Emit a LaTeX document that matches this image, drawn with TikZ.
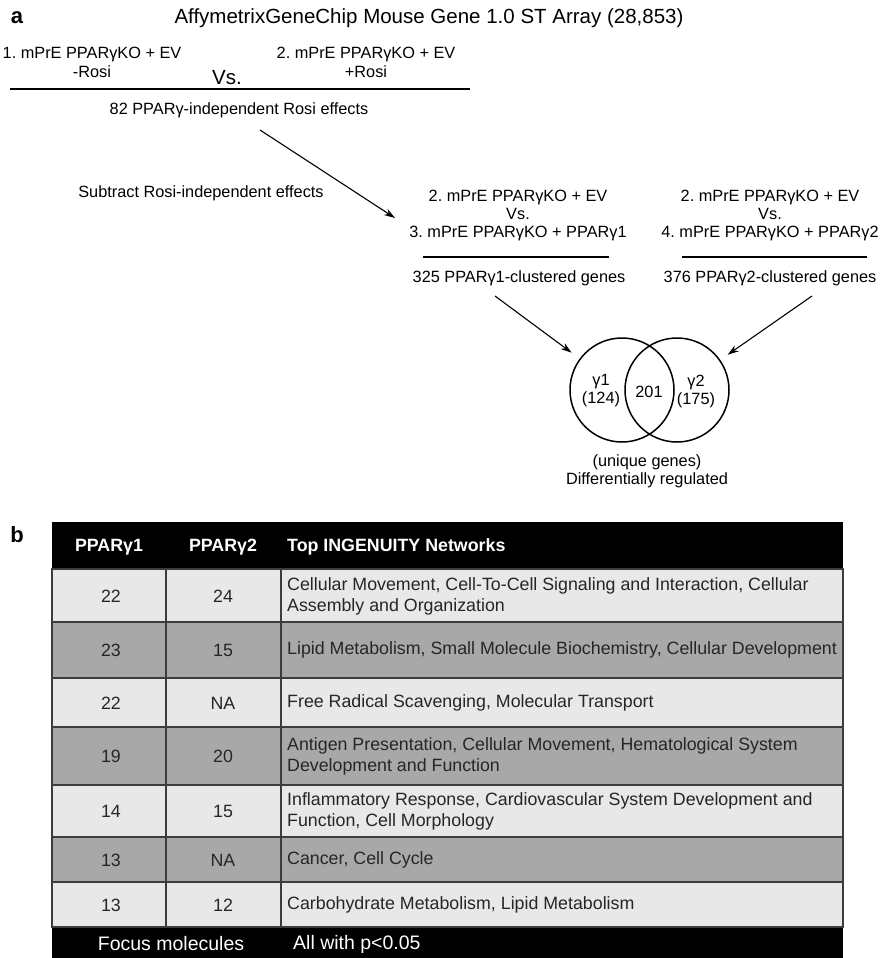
\documentclass[tikz,border=0pt]{standalone}
\usepackage{fontspec}
\setmainfont{Liberation Sans}
\usetikzlibrary{arrows.meta, positioning}
\frenchspacing

\definecolor{rowlight}{HTML}{E8E8E8}
\definecolor{rowdark}{HTML}{A8A8A8}
\definecolor{gridgray}{HTML}{3C3C3C}

\begin{document}
\begin{tikzpicture}[
    x=1pt, y=-1pt,
    txt/.style={inner sep=0pt, align=center, font=\fontsize{16.3}{18}\selectfont},
    panel/.style={inner sep=0pt, font=\fontsize{22}{24}\selectfont\bfseries},
    rule/.style={line width=1.3pt},
    arr/.style={-{Stealth[length=11pt, width=7pt]}, line width=1.1pt},
    venn/.style={circle, draw, line width=1.5pt, minimum size=104pt, inner sep=0pt},
    cell/.style={inner sep=0pt, align=center, font=\fontsize{17.8}{21}\selectfont, text=black!85},
    net/.style={inner sep=0pt, align=left, anchor=west, font=\fontsize{17.8}{21}\selectfont, text=black!85},
    head/.style={inner sep=0pt, text=white, font=\fontsize{17.8}{21}\selectfont\bfseries},
    foot/.style={inner sep=0pt, text=white, font=\fontsize{19.5}{21}\selectfont},
    grid/.style={draw=gridgray, line width=1.2pt},
]
    \useasboundingbox (0,0) rectangle (883,958);

    % Panel a: title and first comparison
    \node[panel] (pa) at (17,18) {a};
    \node[txt, font=\fontsize{20.5}{22}\selectfont] (title) at (429,18) {AffymetrixGeneChip Mouse Gene 1.0 ST Array (28,853)};
    \node[txt, font=\fontsize{16.3}{19}\selectfont] (ev1) at (92,62) {1. mPrE PPARγKO + EV\\-Rosi};
    \node[txt, font=\fontsize{20.5}{22}\selectfont] (vs1) at (227,78) {Vs.};
    \node[txt, font=\fontsize{16.3}{19}\selectfont] (ev2) at (366,62) {2. mPrE PPARγKO + EV\\+Rosi};
    \coordinate (r1a) at (10,89);
    \coordinate (r1b) at (470,89);
    \draw[rule] (r1a) -- (r1b);
    \node[txt] (eff82) at (239,110) {82 PPARγ-independent Rosi effects};

    % Subtraction arrow
    \node[txt] (subtr) at (201,193) {Subtract Rosi-independent effects};
    \coordinate (s1) at (260,130);
    \coordinate (e1) at (395,218);
    \draw[arr] (s1) -- (e1);

    % Second row: PPARg1 and PPARg2 comparisons
    \node[txt] (cmp1) at (518,215) {2. mPrE PPARγKO + EV\\Vs.\\3. mPrE PPARγKO + PPARγ1};
    \coordinate (r2a) at (423,257);
    \coordinate (r2b) at (609,257);
    \draw[rule] (r2a) -- (r2b);
    \node[txt] (g1genes) at (519,278) {325 PPARγ1-clustered genes};

    \node[txt] (cmp2) at (770,215) {2. mPrE PPARγKO + EV\\Vs.\\4. mPrE PPARγKO + PPARγ2};
    \coordinate (r3a) at (682,257);
    \coordinate (r3b) at (867,257);
    \draw[rule] (r3a) -- (r3b);
    \node[txt] (g2genes) at (770,278) {376 PPARγ2-clustered genes};

    % Venn diagram
    \node[venn] (vg1) at (622,390) {};
    \node[venn] (vg2) at (677,390) {};
    \node[txt] (only1) at (601,391) {γ1\\(124)};
    \node[txt] (both) at (649,392) {201};
    \node[txt] (only2) at (696,391) {γ2\\(175)};
    \coordinate (s2) at (495,296);
    \coordinate (s3) at (812,296);
    \draw[arr, shorten >=10pt] (s2) -- (vg1);
    \draw[arr, shorten >=9pt] (s3) -- (vg2);
    \node[txt] (uniq) at (647,471) {(unique genes)\\Differentially regulated};

    % Panel b: network table
    \node[panel] (pb) at (17,535) {b};
    \fill[black] (52,522) rectangle (843,569);
    \fill[rowlight] (52,569) rectangle (843,622);
    \fill[rowdark]  (52,622) rectangle (843,678);
    \fill[rowlight] (52,678) rectangle (843,727);
    \fill[rowdark]  (52,727) rectangle (843,785);
    \fill[rowlight] (52,785) rectangle (843,837);
    \fill[rowdark]  (52,837) rectangle (843,882);
    \fill[rowlight] (52,882) rectangle (843,927);
    \fill[black] (52,927) rectangle (843,958);
    \draw[grid] (52,569) rectangle (843,927);
    \draw[grid] (52,622) -- (843,622);
    \draw[grid] (52,678) -- (843,678);
    \draw[grid] (52,727) -- (843,727);
    \draw[grid] (52,785) -- (843,785);
    \draw[grid] (52,837) -- (843,837);
    \draw[grid] (52,882) -- (843,882);
    \draw[grid] (166,569) -- (166,927);
    \draw[grid] (281,569) -- (281,927);

    % Header
    \node[head] (h1) at (109,547) {PPARγ1};
    \node[head] (h2) at (223,547) {PPARγ2};
    \node[head, anchor=west] (h3) at (287,547) {Top INGENUITY Networks};

    % Rows
    \node[cell] (a1) at (111,596) {22};
    \node[cell] (b1) at (223,596) {24};
    \node[net]  (n1) at (287,596) {Cellular Movement, Cell-To-Cell Signaling and Interaction, Cellular\\Assembly and Organization};

    \node[cell] (a2) at (111,650) {23};
    \node[cell] (b2) at (223,650) {15};
    \node[net]  (n2) at (287,650) {Lipid Metabolism, Small Molecule Biochemistry, Cellular Development};

    \node[cell] (a3) at (111,703) {22};
    \node[cell] (b3) at (223,703) {NA};
    \node[net]  (n3) at (287,703) {Free Radical Scavenging, Molecular Transport};

    \node[cell] (a4) at (111,756) {19};
    \node[cell] (b4) at (223,756) {20};
    \node[net]  (n4) at (287,756) {Antigen Presentation, Cellular Movement, Hematological System\\Development and Function};

    \node[cell] (a5) at (111,811) {14};
    \node[cell] (b5) at (223,811) {15};
    \node[net]  (n5) at (287,811) {Inflammatory Response, Cardiovascular System Development and\\Function, Cell Morphology};

    \node[cell] (a6) at (111,860) {13};
    \node[cell] (b6) at (223,860) {NA};
    \node[net]  (n6) at (287,860) {Cancer, Cell Cycle};

    \node[cell] (a7) at (111,905) {13};
    \node[cell] (b7) at (223,905) {12};
    \node[net]  (n7) at (287,905) {Carbohydrate Metabolism, Lipid Metabolism};

    % Footer
    \node[foot] (f1) at (171,944) {Focus molecules};
    \node[foot, anchor=west] (f2) at (293,944) {All with p<0.05};
\end{tikzpicture}
\end{document}
